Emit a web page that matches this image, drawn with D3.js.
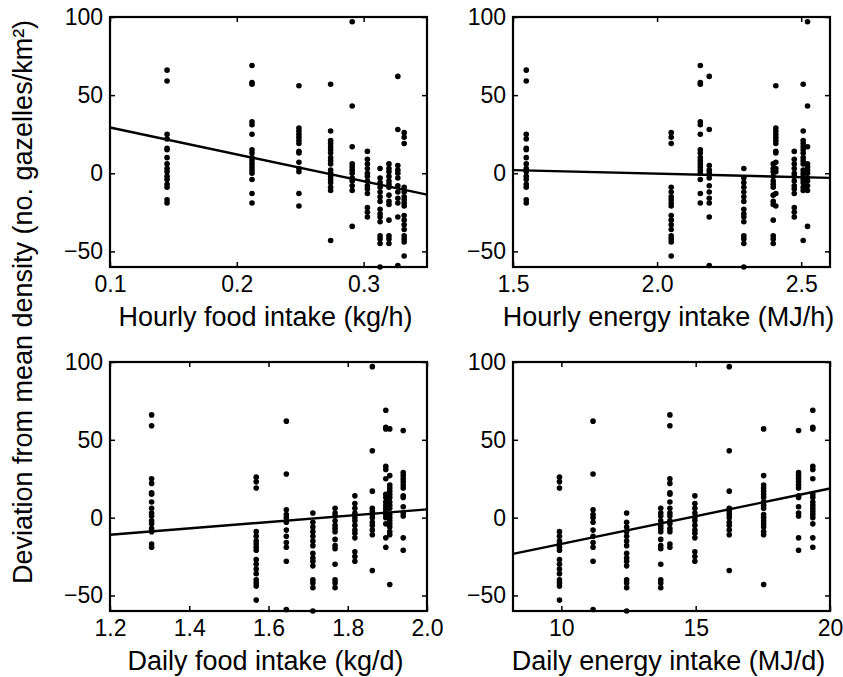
<!DOCTYPE html>
<html>
<head>
<meta charset="utf-8">
<script src="https://cdn.jsdelivr.net/npm/d3@7"></script>
<style>
  body { margin: 0; background: #fff; }
  svg text { font-family: "Liberation Sans", Arial, Helvetica, sans-serif; fill: #000; }
</style>
</head>
<body>
<svg id="chart" width="843" height="677"></svg>
<script>
// groups (sites/periods), same order in every array
// x value of each group in each panel
var hourlyFood   = [0.145, 0.212, 0.249, 0.274, 0.291, 0.303, 0.320, 0.313, 0.327, 0.332];
var hourlyEnergy = [1.546, 2.150, 2.412, 2.507, 2.522, 2.476, 2.403, 2.301, 2.181, 2.049];
var dailyFood    = [1.305, 1.896, 1.940, 1.906, 1.862, 1.818, 1.768, 1.712, 1.645, 1.569];
var dailyEnergy  = [14.04, 19.36, 18.83, 17.53, 16.25, 14.97, 13.70, 12.43, 11.18, 9.93];

// deviation from mean density for each group
var deviations = [
  [66, 59, 25, 22, 16, 15, 10, 6, 3, 1, -2, -4, -7, -9, -17, -19],
  [69, 58, 57, 33, 31, 25, 15, 13, 10, 8, 6, 4, 2, 0, -4, -13, -19],
  [56, 29, 27, 25, 23, 21, 19, 14, 13, 7, 3, 1, -13, -21],
  [57, 27, 21, 19, 17, 15, 13, 10, 8, 6, 2, 0, -2, -4, -6, -9, -11, -43],
  [97, 43, 17, 6, 4, 2, 0, -3, -5, -8, -11, -34],
  [14, 9, 6, 3, 0, -2, -5, -8, -10, -13, -22, -25, -28],
  [6, 3, 1, -2, -5, -7, -9, -14, -18, -20, -30, -40, -42, -45],
  [3, -3, -6, -9, -12, -15, -18, -23, -26, -28, -31, -40, -42, -45, -60],
  [62, 28, 5, 2, 0, -3, -8, -12, -16, -19, -28, -59],
  [26, 23, 19, -9, -12, -15, -17, -19, -21, -27, -30, -33, -36, -40, -42, -44, -53]
];

var panelTitles = ["Hourly food intake (kg/h)", "Hourly energy intake (MJ/h)",
                   "Daily food intake (kg/d)", "Daily energy intake (MJ/d)"];
var xDomains = [[0.1, 0.35], [1.5, 2.6], [1.2, 2.0], [8.2, 20]];
var xTicks = [[0.1, 0.2, 0.3], [1.5, 2.0, 2.5], [1.2, 1.4, 1.6, 1.8, 2.0], [10, 15, 20]];
var xFormats = [".1f", ".1f", ".1f", "d"];
var yDomain = [-60, 100];
var yTicks = [-50, 0, 50, 100];
// least squares lines: y = intercept + slope * x
var fitIntercept = [46.5, 8.75, -35.5, -52.5];
var fitSlope = [-172, -4.5, 20.4, 3.56];
var yTitle = "Deviation from mean density (no. gazelles/km²)";

var xValues = [hourlyFood, hourlyEnergy, dailyFood, dailyEnergy];

var svg = d3.select("#chart");

// panel frames
var cols = [[110, 427], [513, 830]];
var rows = [[17, 267], [362, 611]];

function drawPanel(p){
  var col = cols[p % 2], row = rows[Math.floor(p / 2)];
  var x = d3.scaleLinear().domain(xDomains[p]).range(col);
  var y = d3.scaleLinear().domain(yDomain).range([row[1], row[0]]);
  var g = svg.append("g");

  var pts = [];
  xValues[p].forEach(function(xv, i){
    deviations[i].forEach(function(d){ pts.push([xv, d]); });
  });

  g.selectAll("circle").data(pts).enter().append("circle")
    .attr("cx", function(d){ return x(d[0]); })
    .attr("cy", function(d){ return y(d[1]); })
    .attr("r", 2.8)
    .attr("fill", "#000");

  var xd = xDomains[p];
  var line = d3.line()
    .x(function(d){ return x(d); })
    .y(function(d){ return y(fitIntercept[p] + fitSlope[p] * d); });
  g.append("path").datum(xd).attr("d", line)
    .attr("fill", "none").attr("stroke", "#000").attr("stroke-width", 2.4);

  var fmt = d3.format(xFormats[p]);
  var bottom = g.append("g").attr("transform", "translate(0," + row[1] + ")")
    .call(d3.axisBottom(x).tickValues(xTicks[p]).tickFormat(fmt).tickSize(-5).tickPadding(9));
  var top = g.append("g").attr("transform", "translate(0," + row[0] + ")")
    .call(d3.axisTop(x).tickValues(xTicks[p]).tickFormat("").tickSize(-5));
  var left = g.append("g").attr("transform", "translate(" + col[0] + ",0)")
    .call(d3.axisLeft(y).tickValues(yTicks).tickSize(-5).tickPadding(7));
  var right = g.append("g").attr("transform", "translate(" + col[1] + ",0)")
    .call(d3.axisRight(y).tickValues(yTicks).tickFormat("").tickSize(-5));

  [bottom, top, left, right].forEach(function(a){
    a.select(".domain").remove();
    a.selectAll("line").attr("stroke", "#000").attr("stroke-width", 1.5);
    a.selectAll("text").style("font-size", "23px").attr("fill", "#000");
  });

  g.append("rect")
    .attr("x", col[0]).attr("y", row[0])
    .attr("width", col[1] - col[0]).attr("height", row[1] - row[0])
    .attr("fill", "none").attr("stroke", "#000").attr("stroke-width", 2.2);

  g.append("text")
    .attr("x", (col[0] + col[1]) / 2 - 3)
    .attr("y", row[1] + 59)
    .attr("text-anchor", "middle")
    .style("font-size", "27px")
    .text(panelTitles[p]);
}

for(var p = 0; p < 4; p++){
  drawPanel(p);
}

svg.append("text")
  .attr("transform", "translate(32,302) rotate(-90)")
  .attr("text-anchor", "middle")
  .style("font-size", "27px")
  .text(yTitle);
</script>
</body>
</html>
